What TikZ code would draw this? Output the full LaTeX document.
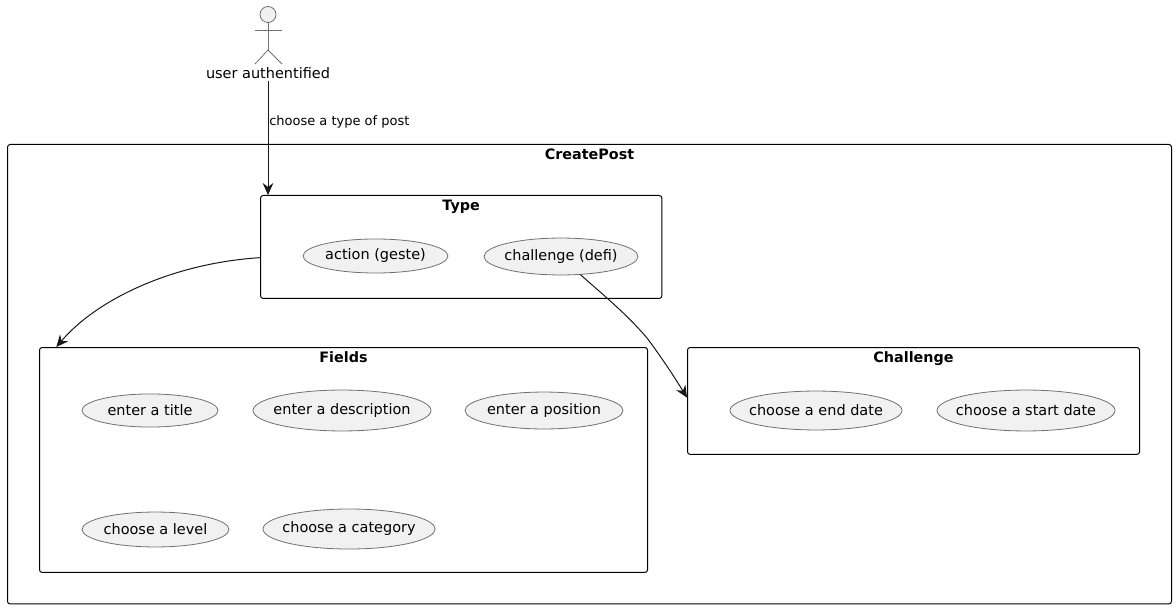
\documentclass[tikz,border=0pt]{standalone}
\usepackage{xcolor}
\usepackage{fontspec}
\setmainfont{DejaVu Sans}
\usetikzlibrary{shapes.geometric, arrows.meta, positioning}
\definecolor{usecasefill}{HTML}{F1F1F1}
\definecolor{usecaseline}{HTML}{707070}
\definecolor{arrowdark}{HTML}{181818}
\newcommand{\uctext}[1]{\makebox[0pt]{\raisebox{0.75pt}{\vphantom{(}#1}}}

\begin{document}
\begin{tikzpicture}[
  x=0.75pt, y=-0.75pt,
  group/.style={
    rectangle, rounded corners=2pt,
    draw=black, line width=0.75pt, fill=none,
    anchor=north west, inner sep=0pt
  },
  grouptitle/.style={font=\fontsize{10.75}{12}\selectfont\bfseries, inner sep=0pt},
  usecase/.style={
    ellipse, draw=usecaseline, line width=0.6pt, fill=usecasefill,
    inner sep=0pt, font=\fontsize{10.85}{12}\selectfont
  },
  stick/.style={draw=usecaseline, line width=0.6pt},
  arrow/.style={-{Stealth[length=9pt, width=8pt, inset=3pt]}, line width=0.75pt, color=arrowdark},
  linklabel/.style={font=\fontsize{9.75}{12}\selectfont, inner sep=0pt, anchor=west}
]
\useasboundingbox (0,0) rectangle (1176,609);

% Actor
\node[circle, stick, fill=usecasefill, minimum size=12pt, inner sep=0pt] (head) at (268,14.5) {};
\coordinate (hip) at (268,50);
\draw[stick] (head.south) -- (hip);
\draw[stick] (255,30) -- (282,30);
\draw[stick] (255,64) -- (hip) -- (282,64);
\node[font=\fontsize{10.85}{12}\selectfont, inner sep=0pt, minimum height=12pt] (user) at (268,73) {user authentified};

% Outer package
\node[group, minimum width=873pt, minimum height=344.6pt] (createpost) at (7,144) {};
\node[grouptitle, below=3.4pt of createpost.north] (createposttitle) {CreatePost};

% Type
\node[group, minimum width=301pt, minimum height=77.2pt] (type) at (260,195) {};
\node[grouptitle, below=3.4pt of type.north] (typetitle) {Type};
\node[usecase, minimum width=108.7pt, minimum height=25.5pt] (action) at (375.5,256) {\uctext{action (geste)}};
\node[usecase, minimum width=115.5pt, minimum height=27.7pt] (challengedefi) at (561,256.5) {\uctext{challenge (defi)}};

% Fields
\node[group, minimum width=456pt, minimum height=168.7pt] (fields) at (39,347) {};
\node[grouptitle, below=3.4pt of fields.north] (fieldstitle) {Fields};
\node[usecase, minimum width=102pt, minimum height=24.8pt] (title) at (150,410.5) {\uctext{enter a title}};
\node[usecase, minimum width=133.5pt, minimum height=30.7pt] (description) at (342,410.5) {\uctext{enter a description}};
\node[usecase, minimum width=118.5pt, minimum height=27.7pt] (position) at (544,410.5) {\uctext{enter a position}};
\node[usecase, minimum width=110.2pt, minimum height=26.2pt] (level) at (155.5,529.5) {\uctext{choose a level}};
\node[usecase, minimum width=129pt, minimum height=30pt] (category) at (349,529) {\uctext{choose a category}};

% Challenge
\node[group, minimum width=339pt, minimum height=80.2pt] (challenge) at (687,347) {};
\node[grouptitle, below=3.4pt of challenge.north] (challengetitle) {Challenge};
\node[usecase, minimum width=129pt, minimum height=29.2pt] (enddate) at (816,410.5) {\uctext{choose a end date}};
\node[usecase, minimum width=133.5pt, minimum height=30.7pt] (startdate) at (1026,410.5) {\uctext{choose a start date}};

% Arrows
\draw[arrow] (user.south) -- ([xshift=6pt]type.north west);
\node[linklabel] (typelabel) at (269,122) {choose a type of post};
\draw[arrow] ([yshift=-47pt]type.north west) .. controls (175,263) and (98,298) .. ([xshift=13pt]fields.north west);
\draw[arrow] (challengedefi.-43) .. controls (595,288) and (625,312) .. (647,338)
      .. controls (662,358) and (675,378) .. ([yshift=-38pt]challenge.north west);

\end{tikzpicture}
\end{document}
